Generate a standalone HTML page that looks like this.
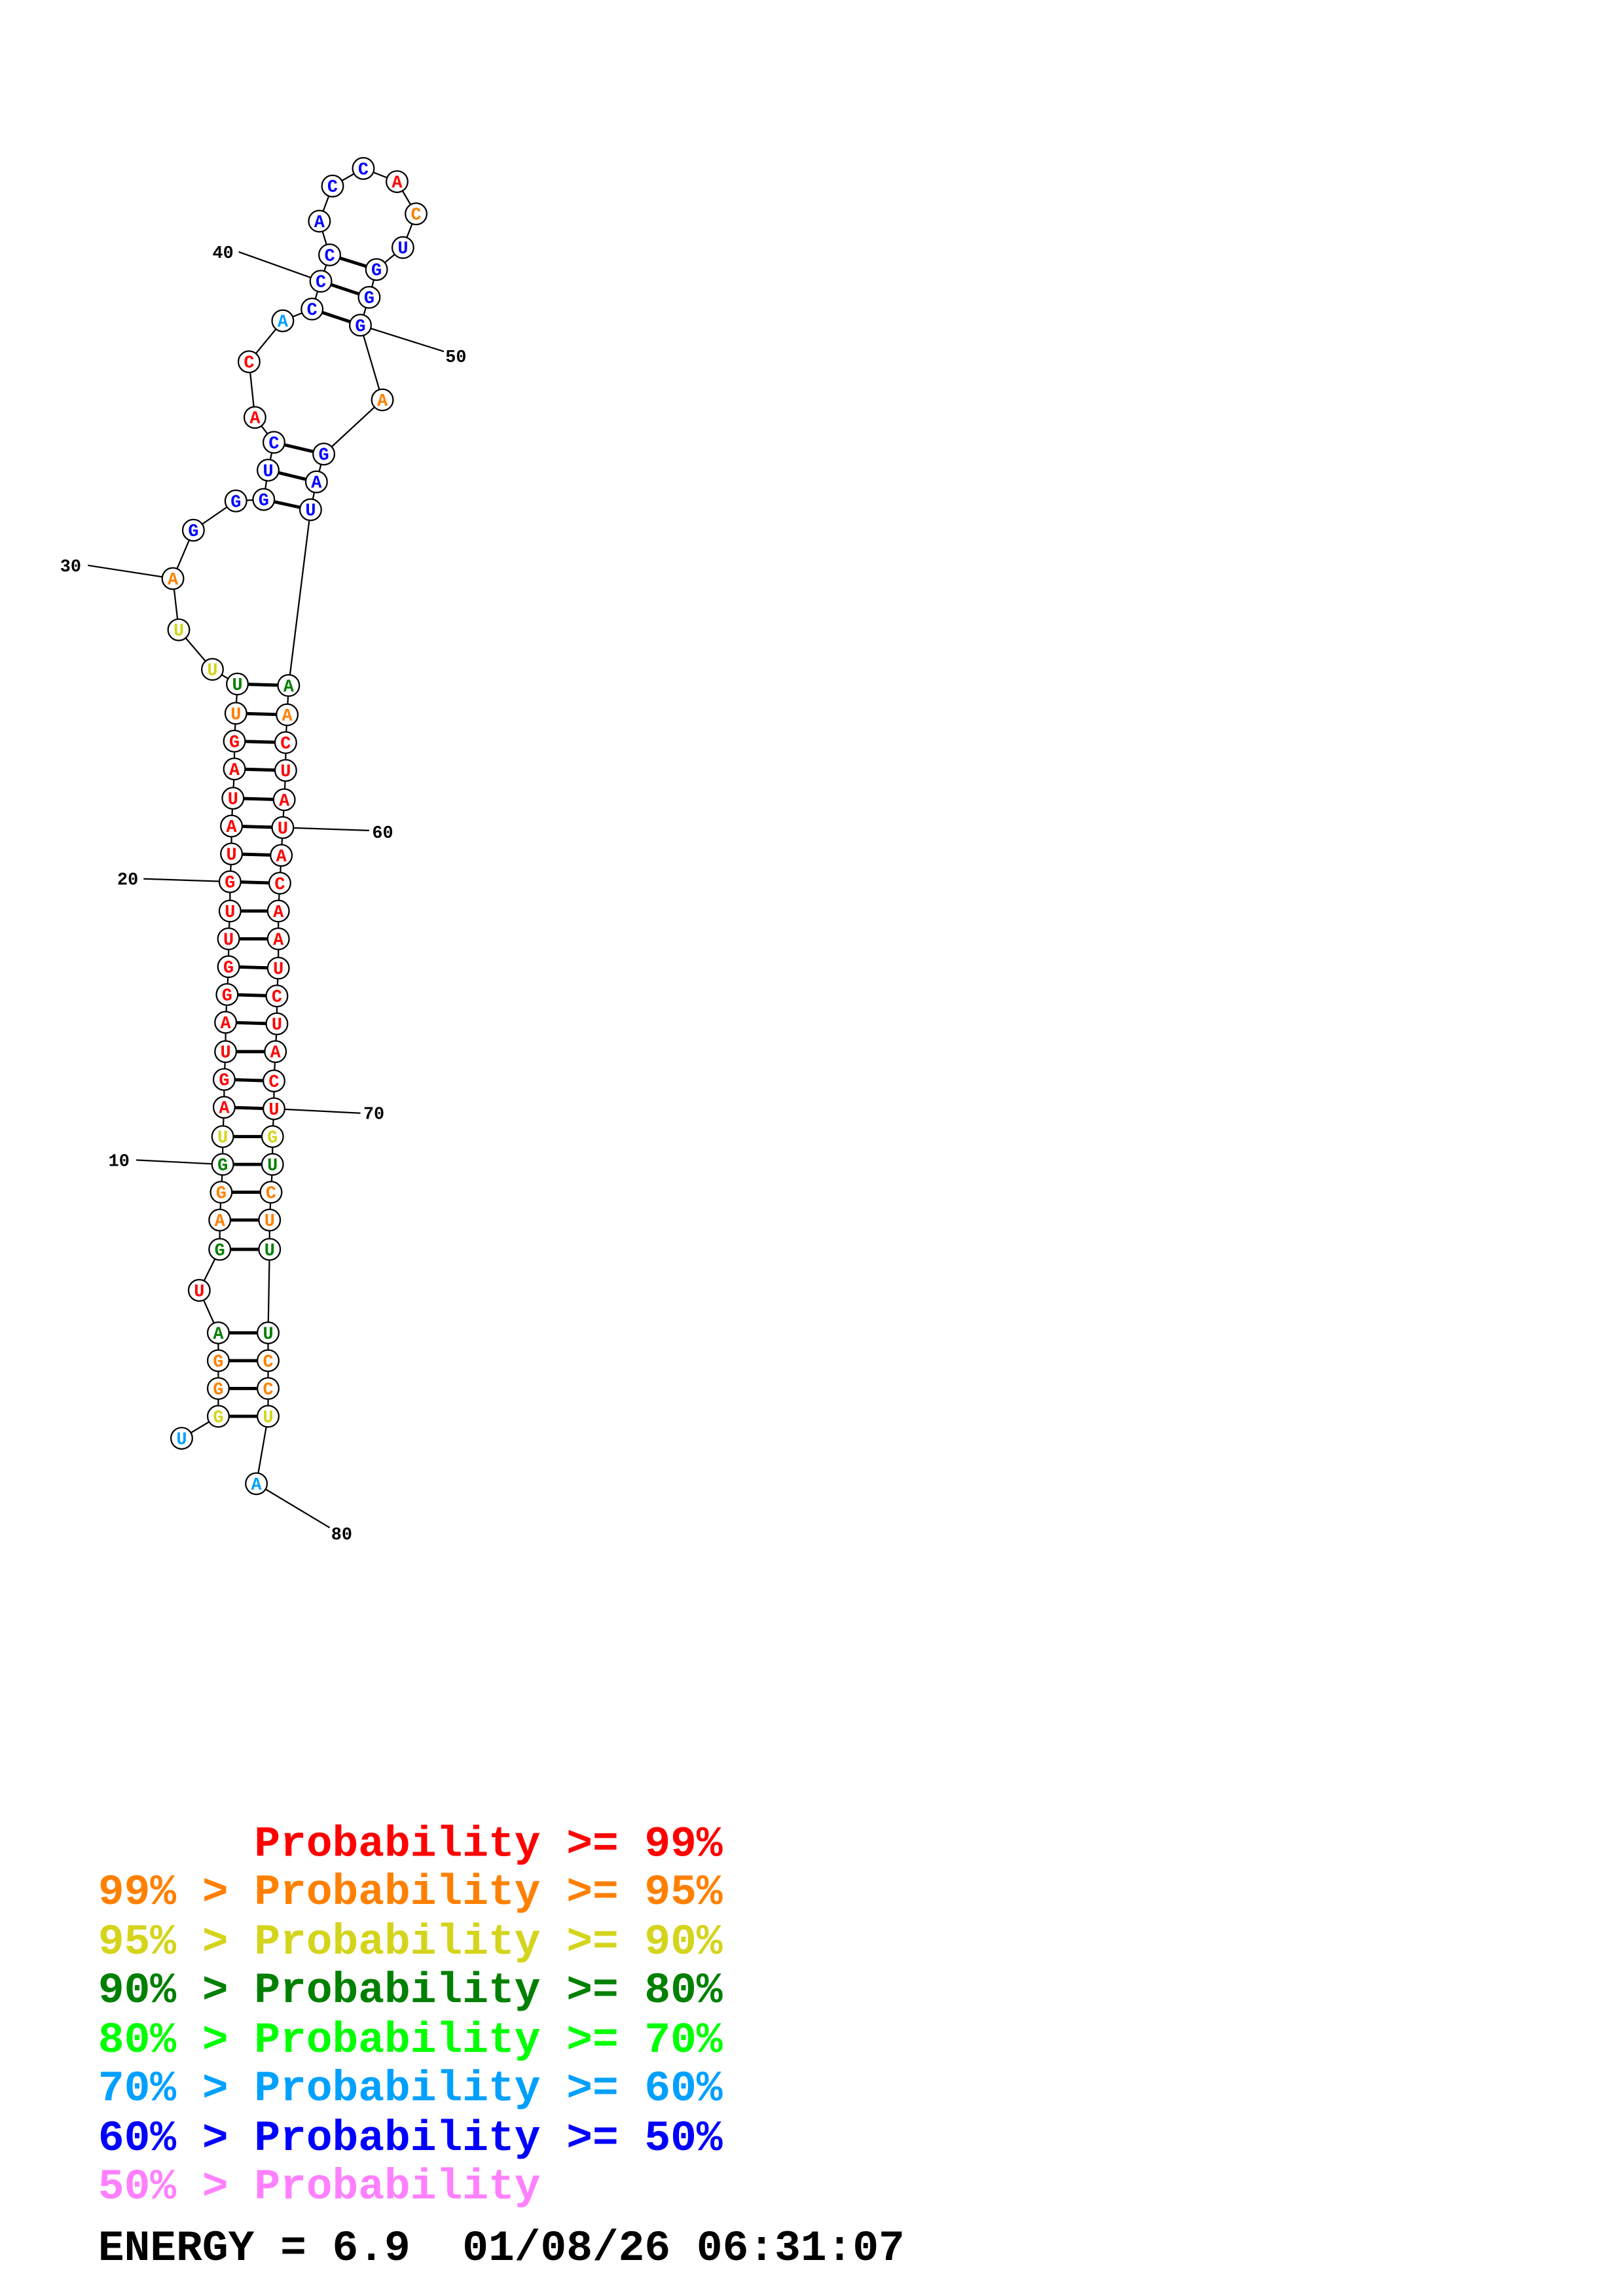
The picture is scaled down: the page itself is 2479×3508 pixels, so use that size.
<!DOCTYPE html>
<html><head><meta charset="utf-8"><style>
html,body{margin:0;padding:0;background:#fff}
svg{display:block}
.n{fill:#fff;stroke:#000;stroke-width:1}
.t{font-family:"Liberation Mono",monospace;font-weight:bold;font-size:12px;text-anchor:middle}
.l{font-family:"Liberation Mono",monospace;font-weight:bold;font-size:12px;fill:#000}
.g text{font-family:"Liberation Mono",monospace;font-weight:bold;font-size:29.6px;white-space:pre}
.R{fill:#ff0000}.O{fill:#ff8000}.Y{fill:#d4d41c}.G{fill:#008000}.L{fill:#00a0ff}.B{fill:#0000ff}
</style></head><body>
<svg width="2479" height="3508" viewBox="0 0 1107.8 1567.6" xmlns="http://www.w3.org/2000/svg">
<g stroke="#000" stroke-width="1" fill="none">
<polyline points="124,982 149,967 149,948 149,929 149,910 136,881 150,853 150,833 151,814 152,795 152,776 153,756 153,737 154,718 154,698 155,679 156,660 156,641 157,622 157,602 158,583 158,564 159,545 160,525 160,506 161,487 162,467 145,457 122,430 118,395 132,362 161,342 180,341 183,321 187,302 174,285 170,247 193,219 213,211 219,192 225,174 218,151 227,127 248,115 271,124 284,146 275,169 257,184 252,203 246,222 261,273 221,310 216,329 212,348 197,468 196,488 195,507 195,526 194,546 193,565 192,584 191,603 190,622 190,641 190,661 189,680 189,699 188,718 187,738 187,757 186,776 186,795 185,814 184,833 184,853 183,910 183,929 183,948 183,967 175,1013"/>
<line x1="152" y1="795" x2="93" y2="792"/>
<line x1="157" y1="602" x2="98" y2="600"/>
<line x1="118" y1="395" x2="60" y2="386"/>
<line x1="219" y1="192" x2="163" y2="172"/>
<line x1="246" y1="222" x2="303" y2="240"/>
<line x1="193" y1="565" x2="252" y2="567"/>
<line x1="187" y1="757" x2="246" y2="760"/>
<line x1="175" y1="1013" x2="225" y2="1043"/>
</g>
<g stroke="#000" stroke-width="2.2">
<line x1="149" y1="967" x2="183" y2="967"/><line x1="149" y1="948" x2="183" y2="948"/><line x1="149" y1="929" x2="183" y2="929"/><line x1="149" y1="910" x2="183" y2="910"/>
<line x1="150" y1="853" x2="184" y2="853"/><line x1="150" y1="833" x2="184" y2="833"/><line x1="151" y1="814" x2="185" y2="814"/><line x1="152" y1="795" x2="186" y2="795"/><line x1="152" y1="776" x2="186" y2="776"/><line x1="153" y1="756" x2="187" y2="757"/><line x1="153" y1="737" x2="187" y2="738"/><line x1="154" y1="718" x2="188" y2="718"/><line x1="154" y1="698" x2="189" y2="699"/><line x1="155" y1="679" x2="189" y2="680"/><line x1="156" y1="660" x2="190" y2="661"/><line x1="156" y1="641" x2="190" y2="641"/><line x1="157" y1="622" x2="190" y2="622"/><line x1="157" y1="602" x2="191" y2="603"/><line x1="158" y1="583" x2="192" y2="584"/><line x1="158" y1="564" x2="193" y2="565"/><line x1="159" y1="545" x2="194" y2="546"/><line x1="160" y1="525" x2="195" y2="526"/><line x1="160" y1="506" x2="195" y2="507"/><line x1="161" y1="487" x2="196" y2="488"/><line x1="162" y1="467" x2="197" y2="468"/>
<line x1="180" y1="341" x2="212" y2="348"/><line x1="183" y1="321" x2="216" y2="329"/><line x1="187" y1="302" x2="221" y2="310"/>
<line x1="213" y1="211" x2="246" y2="222"/><line x1="219" y1="192" x2="252" y2="203"/><line x1="225" y1="174" x2="257" y2="184"/>
</g>
<g class="nodes">
<circle class="n" cx="124" cy="982" r="7.3"/><text class="t L" x="124" y="986">U</text>
<circle class="n" cx="149" cy="967" r="7.3"/><text class="t Y" x="149" y="971">G</text>
<circle class="n" cx="149" cy="948" r="7.3"/><text class="t O" x="149" y="952">G</text>
<circle class="n" cx="149" cy="929" r="7.3"/><text class="t O" x="149" y="933">G</text>
<circle class="n" cx="149" cy="910" r="7.3"/><text class="t G" x="149" y="914">A</text>
<circle class="n" cx="136" cy="881" r="7.3"/><text class="t R" x="136" y="885">U</text>
<circle class="n" cx="150" cy="853" r="7.3"/><text class="t G" x="150" y="857">G</text>
<circle class="n" cx="150" cy="833" r="7.3"/><text class="t O" x="150" y="837">A</text>
<circle class="n" cx="151" cy="814" r="7.3"/><text class="t O" x="151" y="818">G</text>
<circle class="n" cx="152" cy="795" r="7.3"/><text class="t G" x="152" y="799">G</text>
<circle class="n" cx="152" cy="776" r="7.3"/><text class="t Y" x="152" y="780">U</text>
<circle class="n" cx="153" cy="756" r="7.3"/><text class="t R" x="153" y="760">A</text>
<circle class="n" cx="153" cy="737" r="7.3"/><text class="t R" x="153" y="741">G</text>
<circle class="n" cx="154" cy="718" r="7.3"/><text class="t R" x="154" y="722">U</text>
<circle class="n" cx="154" cy="698" r="7.3"/><text class="t R" x="154" y="702">A</text>
<circle class="n" cx="155" cy="679" r="7.3"/><text class="t R" x="155" y="683">G</text>
<circle class="n" cx="156" cy="660" r="7.3"/><text class="t R" x="156" y="664">G</text>
<circle class="n" cx="156" cy="641" r="7.3"/><text class="t R" x="156" y="645">U</text>
<circle class="n" cx="157" cy="622" r="7.3"/><text class="t R" x="157" y="626">U</text>
<circle class="n" cx="157" cy="602" r="7.3"/><text class="t R" x="157" y="606">G</text>
<circle class="n" cx="158" cy="583" r="7.3"/><text class="t R" x="158" y="587">U</text>
<circle class="n" cx="158" cy="564" r="7.3"/><text class="t R" x="158" y="568">A</text>
<circle class="n" cx="159" cy="545" r="7.3"/><text class="t R" x="159" y="549">U</text>
<circle class="n" cx="160" cy="525" r="7.3"/><text class="t R" x="160" y="529">A</text>
<circle class="n" cx="160" cy="506" r="7.3"/><text class="t R" x="160" y="510">G</text>
<circle class="n" cx="161" cy="487" r="7.3"/><text class="t O" x="161" y="491">U</text>
<circle class="n" cx="162" cy="467" r="7.3"/><text class="t G" x="162" y="471">U</text>
<circle class="n" cx="145" cy="457" r="7.3"/><text class="t Y" x="145" y="461">U</text>
<circle class="n" cx="122" cy="430" r="7.3"/><text class="t Y" x="122" y="434">U</text>
<circle class="n" cx="118" cy="395" r="7.3"/><text class="t O" x="118" y="399">A</text>
<circle class="n" cx="132" cy="362" r="7.3"/><text class="t B" x="132" y="366">G</text>
<circle class="n" cx="161" cy="342" r="7.3"/><text class="t B" x="161" y="346">G</text>
<circle class="n" cx="180" cy="341" r="7.3"/><text class="t B" x="180" y="345">G</text>
<circle class="n" cx="183" cy="321" r="7.3"/><text class="t B" x="183" y="325">U</text>
<circle class="n" cx="187" cy="302" r="7.3"/><text class="t B" x="187" y="306">C</text>
<circle class="n" cx="174" cy="285" r="7.3"/><text class="t R" x="174" y="289">A</text>
<circle class="n" cx="170" cy="247" r="7.3"/><text class="t R" x="170" y="251">C</text>
<circle class="n" cx="193" cy="219" r="7.3"/><text class="t L" x="193" y="223">A</text>
<circle class="n" cx="213" cy="211" r="7.3"/><text class="t B" x="213" y="215">C</text>
<circle class="n" cx="219" cy="192" r="7.3"/><text class="t B" x="219" y="196">C</text>
<circle class="n" cx="225" cy="174" r="7.3"/><text class="t B" x="225" y="178">C</text>
<circle class="n" cx="218" cy="151" r="7.3"/><text class="t B" x="218" y="155">A</text>
<circle class="n" cx="227" cy="127" r="7.3"/><text class="t B" x="227" y="131">C</text>
<circle class="n" cx="248" cy="115" r="7.3"/><text class="t B" x="248" y="119">C</text>
<circle class="n" cx="271" cy="124" r="7.3"/><text class="t R" x="271" y="128">A</text>
<circle class="n" cx="284" cy="146" r="7.3"/><text class="t O" x="284" y="150">C</text>
<circle class="n" cx="275" cy="169" r="7.3"/><text class="t B" x="275" y="173">U</text>
<circle class="n" cx="257" cy="184" r="7.3"/><text class="t B" x="257" y="188">G</text>
<circle class="n" cx="252" cy="203" r="7.3"/><text class="t B" x="252" y="207">G</text>
<circle class="n" cx="246" cy="222" r="7.3"/><text class="t B" x="246" y="226">G</text>
<circle class="n" cx="261" cy="273" r="7.3"/><text class="t O" x="261" y="277">A</text>
<circle class="n" cx="221" cy="310" r="7.3"/><text class="t B" x="221" y="314">G</text>
<circle class="n" cx="216" cy="329" r="7.3"/><text class="t B" x="216" y="333">A</text>
<circle class="n" cx="212" cy="348" r="7.3"/><text class="t B" x="212" y="352">U</text>
<circle class="n" cx="197" cy="468" r="7.3"/><text class="t G" x="197" y="472">A</text>
<circle class="n" cx="196" cy="488" r="7.3"/><text class="t O" x="196" y="492">A</text>
<circle class="n" cx="195" cy="507" r="7.3"/><text class="t R" x="195" y="511">C</text>
<circle class="n" cx="195" cy="526" r="7.3"/><text class="t R" x="195" y="530">U</text>
<circle class="n" cx="194" cy="546" r="7.3"/><text class="t R" x="194" y="550">A</text>
<circle class="n" cx="193" cy="565" r="7.3"/><text class="t R" x="193" y="569">U</text>
<circle class="n" cx="192" cy="584" r="7.3"/><text class="t R" x="192" y="588">A</text>
<circle class="n" cx="191" cy="603" r="7.3"/><text class="t R" x="191" y="607">C</text>
<circle class="n" cx="190" cy="622" r="7.3"/><text class="t R" x="190" y="626">A</text>
<circle class="n" cx="190" cy="641" r="7.3"/><text class="t R" x="190" y="645">A</text>
<circle class="n" cx="190" cy="661" r="7.3"/><text class="t R" x="190" y="665">U</text>
<circle class="n" cx="189" cy="680" r="7.3"/><text class="t R" x="189" y="684">C</text>
<circle class="n" cx="189" cy="699" r="7.3"/><text class="t R" x="189" y="703">U</text>
<circle class="n" cx="188" cy="718" r="7.3"/><text class="t R" x="188" y="722">A</text>
<circle class="n" cx="187" cy="738" r="7.3"/><text class="t R" x="187" y="742">C</text>
<circle class="n" cx="187" cy="757" r="7.3"/><text class="t R" x="187" y="761">U</text>
<circle class="n" cx="186" cy="776" r="7.3"/><text class="t Y" x="186" y="780">G</text>
<circle class="n" cx="186" cy="795" r="7.3"/><text class="t G" x="186" y="799">U</text>
<circle class="n" cx="185" cy="814" r="7.3"/><text class="t O" x="185" y="818">C</text>
<circle class="n" cx="184" cy="833" r="7.3"/><text class="t O" x="184" y="837">U</text>
<circle class="n" cx="184" cy="853" r="7.3"/><text class="t G" x="184" y="857">U</text>
<circle class="n" cx="183" cy="910" r="7.3"/><text class="t G" x="183" y="914">U</text>
<circle class="n" cx="183" cy="929" r="7.3"/><text class="t O" x="183" y="933">C</text>
<circle class="n" cx="183" cy="948" r="7.3"/><text class="t O" x="183" y="952">C</text>
<circle class="n" cx="183" cy="967" r="7.3"/><text class="t Y" x="183" y="971">U</text>
<circle class="n" cx="175" cy="1013" r="7.3"/><text class="t L" x="175" y="1017">A</text>
</g>
<text class="l" x="74" y="796">10</text>
<text class="l" x="80" y="604">20</text>
<text class="l" x="41" y="390">30</text>
<text class="l" x="145" y="176">40</text>
<text class="l" x="304" y="247">50</text>
<text class="l" x="254" y="572">60</text>
<text class="l" x="248" y="764">70</text>
<text class="l" x="226" y="1051">80</text>
<g class="g">
<text x="67" y="1267" fill="#ff0000">      Probability &gt;= 99%</text>
<text x="67" y="1300" fill="#ff8000">99% &gt; Probability &gt;= 95%</text>
<text x="67" y="1334" fill="#d4d41c">95% &gt; Probability &gt;= 90%</text>
<text x="67" y="1367" fill="#008000">90% &gt; Probability &gt;= 80%</text>
<text x="67" y="1401" fill="#00ff00">80% &gt; Probability &gt;= 70%</text>
<text x="67" y="1434" fill="#00a0ff">70% &gt; Probability &gt;= 60%</text>
<text x="67" y="1468" fill="#0000ff">60% &gt; Probability &gt;= 50%</text>
<text x="67" y="1501" fill="#ff80ff">50% &gt; Probability</text>
<text x="67" y="1543" fill="#000">ENERGY = 6.9  01/08/26 06:31:07</text>
</g>
</svg>
</body></html>
